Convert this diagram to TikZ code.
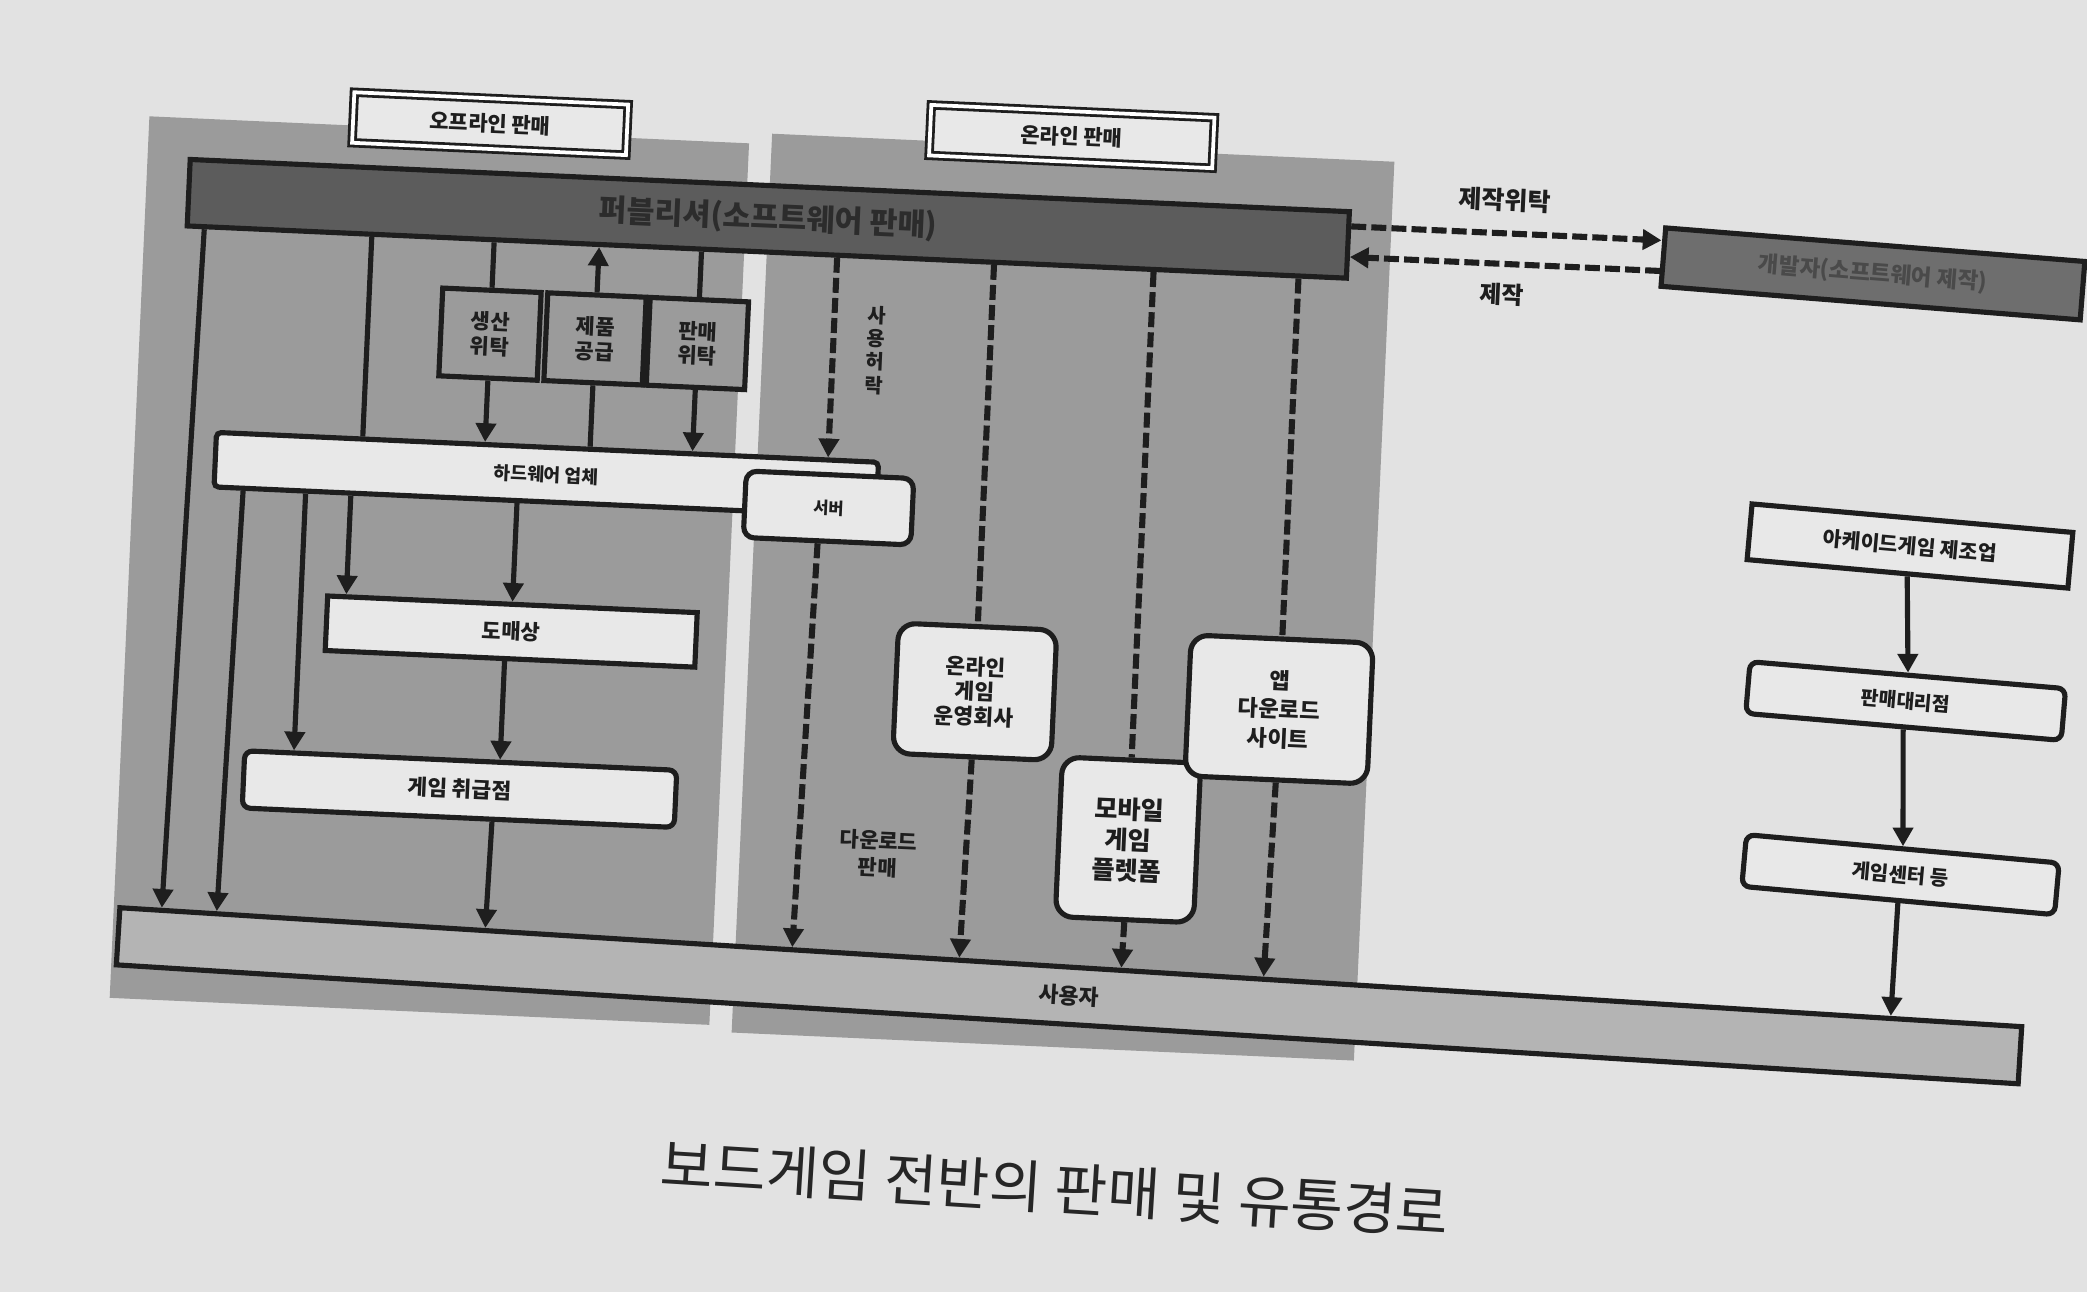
\documentclass[tikz,border=0pt]{standalone}
\usepackage{fontspec}
\newfontfamily\kr{Noto Sans CJK KR}
\usetikzlibrary{arrows.meta,calc}
\definecolor{pagebg}{HTML}{E2E2E2}
\definecolor{panelgray}{HTML}{9B9B9B}
\definecolor{pubfill}{HTML}{5C5C5C}
\definecolor{pubtext}{HTML}{2C2C2C}
\definecolor{devfill}{HTML}{6E6E6E}
\definecolor{devtext}{HTML}{4A4A4A}
\definecolor{boxfill}{HTML}{E8E8E8}
\definecolor{userfill}{HTML}{B4B4B4}
\definecolor{ink}{HTML}{1E1E1E}
\begin{document}
\begin{tikzpicture}[x=0.02cm,y=-0.02cm,
  every node/.append style={transform shape},
  fs/.style 2 args={font=\kr\bfseries\fontsize{#1}{#2}\selectfont},
  ln/.style={draw=ink,line width=2.2pt},
  arr/.style={ln,-{Triangle[length=8pt,width=8.5pt]}},
  dsh/.style={draw=ink,line width=2.6pt,dash pattern=on 6.4pt off 2.2pt},
  darr/.style={dsh,-{Triangle[length=8pt,width=8.5pt]}},
  box/.style={draw=ink,line width=2.2pt,fill=boxfill,text=ink,inner sep=0pt,align=center,fs={9}{10.5}},
  lbl/.style={box,line width=1.2pt,double=white,double distance=1.6pt,minimum height=0.76cm},
  txt/.style={inner sep=0pt,align=center,text=ink}
]
\useasboundingbox (0,0) rectangle (1568,971);
\fill[pagebg] (0,0) rectangle (1568,971);
\begin{scope}[rotate around={-2.58:(784,485)}]
  % panels
  \fill[panelgray] (95,118) rectangle (546,781);
  \fill[panelgray] (563,110) rectangle (1031,786);
  % section labels
  \node[lbl,minimum width=4.12cm] (lbOff) at (351,112) {오프라인 판매};
  \node[lbl,minimum width=4.26cm] (lbOn) at (788,102) {온라인 판매};
  % publisher and developer
  \node[draw=ink,line width=2.2pt,fill=pubfill,minimum width=17.44cm,minimum height=1.0cm,inner sep=0pt,
        fs={13}{15},text=pubtext] (pub) at (563,174) {퍼블리셔(소프트웨어 판매)};
  \node[draw=ink,line width=2.2pt,fill=devfill,minimum width=6.32cm,minimum height=0.88cm,inner sep=0pt,
        rotate=-2,fs={9.6}{11},text=devtext] (dev) at (1394,178) {개발자(소프트웨어 제작)};
  % offline boxes
  \node[box,fill=panelgray,minimum width=1.48cm,minimum height=1.32cm] (prod) at (358,270) {생산\\위탁};
  \node[box,fill=panelgray,minimum width=1.48cm,minimum height=1.32cm] (supp) at (437,270) {제품\\공급};
  \node[box,fill=panelgray,minimum width=1.48cm,minimum height=1.32cm] (sale) at (514,270) {판매\\위탁};
  \node[box,rounded corners=2pt,minimum width=9.96cm,minimum height=0.82cm,fs={7.8}{9}] (hw) at (405,373.5) {하드웨어 업체};
  \node[box,rounded corners=0.16cm,minimum width=2.52cm,minimum height=1.0cm,fs={7.1}{8}] (srv) at (618,389) {서버};
  \node[box,minimum width=5.56cm,minimum height=0.82cm] (whole) at (384,492.5) {도매상};
  \node[box,rounded corners=0.12cm,minimum width=6.5cm,minimum height=0.86cm,fs={9.2}{10.5}] (shop) at (350.5,612.5) {게임 취급점};
  % online boxes
  \node[box,rounded corners=0.26cm,minimum width=2.38cm,minimum height=1.96cm,fs={9.2}{10.7}] (op) at (734,522) {온라인\\게임\\운영회사};
  \node[box,rounded corners=0.26cm,minimum width=2.08cm,minimum height=2.4cm,fs={10.8}{13}] (mob) at (854,628) {모바일\\게임\\플렛폼};
  \node[box,rounded corners=0.26cm,minimum width=2.74cm,minimum height=2.12cm,fs={9.5}{12.4}] (app) at (963,525) {앱\\다운로드\\사이트};
  % users
  \node[box,fill=userfill,minimum width=28.64cm,minimum height=0.86cm,rotate=-1,fs={9.3}{11}] (user) at (815,747) {사용자};
  % arcade chain
  \node[box,minimum width=4.84cm,minimum height=0.84cm,rotate=-2.5,fs={8.75}{10}] (arc) at (1431,381) {아케이드게임 제조업};
  \node[box,rounded corners=0.12cm,minimum width=4.76cm,minimum height=0.78cm,rotate=-2.3,fs={8.3}{10}] (agent) at (1433,497.5) {판매대리점};
  \node[box,rounded corners=0.12cm,minimum width=4.72cm,minimum height=0.78cm,rotate=-2.6,fs={8.6}{10}] (gc) at (1435,628) {게임센터 등};
  % free labels
  \node[txt,fs={8.5}{10}] (perm) at (648,269) {사\\용\\허\\락};
  \node[txt,fs={9}{11.4}] (dlsale) at (667,647) {다운로드\\판매};
  \node[txt,fs={10.7}{12}] (commis) at (1115,135) {제작위탁};
  \node[txt,fs={10.2}{12}] (make) at (1116,206) {제작};
  \node[txt,font=\kr\fontsize{24.5}{28}\selectfont,text=black!85,rotate=-1] (title) at (811,892) {보드게임 전반의 판매 및 유통경로};
  % track coordinates
  \coordinate (x1) at (140,0);
  \coordinate (x2) at (178,0);
  \coordinate (x3) at (225,0);
  \coordinate (x4) at (259,0);
  \coordinate (x5) at (266,0);
  \coordinate (x6) at (384,0);
  \coordinate (x7) at (380,0);
  \coordinate (x8) at (376,0);
  \coordinate (x9) at (616,0);
  \coordinate (x10) at (611,0);
  \coordinate (yA) at (0,160);
  \coordinate (yB) at (0,183);
  % offline connectors
  \coordinate (a1) at (pub.south -| x1);
  \draw[arr] (a1) -- ($(user.north west)!(a1)!(user.north east)$);
  \draw[ln] (pub.south -| x5) -- (hw.north -| x5);
  \draw[ln] (pub.south -| prod.north) -- (prod.north);
  \draw[arr] (prod.south) -- (hw.north -| prod.south);
  \draw[ln] (hw.north -| supp.south) -- (supp.south);
  \draw[arr] (supp.north) -- (pub.south -| supp.north);
  \draw[ln] (pub.south -| sale.north) -- (sale.north);
  \draw[arr] (sale.south) -- (hw.north -| sale.south);
  \coordinate (a2) at (hw.south -| x2);
  \draw[arr] (a2) -- ($(user.north west)!(a2)!(user.north east)$);
  \draw[arr] (hw.south -| x3) -- (shop.north -| x3);
  \draw[arr] (hw.south -| x4) -- (whole.north -| x4);
  \draw[arr] (hw.south -| x6) -- (whole.north -| x6);
  \draw[arr] (whole.south -| x7) -- (shop.north -| x7);
  \coordinate (a8) at (shop.south -| x8);
  \draw[arr] (a8) -- ($(user.north west)!(a8)!(user.north east)$);
  % online connectors
  \draw[darr] (pub.south -| x9) -- (hw.north -| x9);
  \coordinate (a10) at (srv.south -| x10);
  \draw[darr] (a10) -- ($(user.north west)!(a10)!(user.north east)$);
  \draw[dsh] (pub.south -| op.north) -- (op.north);
  \draw[darr] (op.south) -- ($(user.north west)!(op.south)!(user.north east)$);
  \draw[dsh] (pub.south -| mob.north) -- (mob.north);
  \draw[darr] (mob.south) -- ($(user.north west)!(mob.south)!(user.north east)$);
  \draw[dsh] (pub.south -| app.north) -- (app.north);
  \draw[darr] (app.south) -- ($(user.north west)!(app.south)!(user.north east)$);
  % publisher <-> developer
  \draw[darr] (pub.east |- yA) -- (dev.west |- yA);
  \draw[darr] (dev.west |- yB) -- (pub.east |- yB);
  % arcade chain
  \draw[arr] (arc.south) -- (agent.north);
  \draw[arr] (agent.south) -- (gc.north);
  \draw[arr] (gc.south) -- ($(user.north west)!(gc.south)!(user.north east)$);
\end{scope}
\end{tikzpicture}
\end{document}
